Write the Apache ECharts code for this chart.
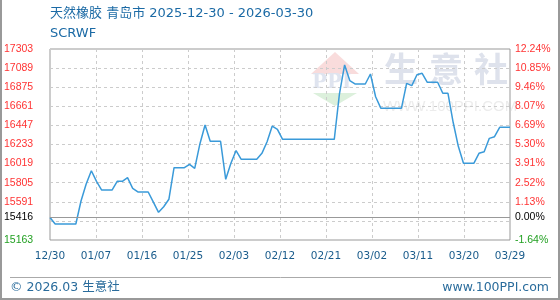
<!DOCTYPE html>
<html>
<head>
<meta charset="utf-8">
<script src="https://cdn.jsdelivr.net/npm/echarts@6/dist/echarts.min.js"></script>
<style>
html,body{margin:0;padding:0;background:#fff;}
#c{width:560px;height:300px;}
</style>
</head>
<body>
<div id="c"></div>
<script>
// ---- data ----
const titleText = '天然橡胶 青岛市 2025-12-30 - 2026-03-30';
const subText = 'SCRWF';
const basePrice = 15416;
const dates = [
  '2025-12-30','2025-12-31','2026-01-04','2026-01-05','2026-01-06','2026-01-07','2026-01-08','2026-01-09',
  '2026-01-11','2026-01-12','2026-01-13','2026-01-14','2026-01-15','2026-01-16','2026-01-18','2026-01-19',
  '2026-01-20','2026-01-21','2026-01-22','2026-01-23','2026-01-25','2026-01-26','2026-01-27','2026-01-28',
  '2026-01-29','2026-01-30','2026-02-01','2026-02-02','2026-02-03','2026-02-04','2026-02-05','2026-02-08',
  '2026-02-09','2026-02-10','2026-02-11','2026-02-12','2026-02-13','2026-02-23','2026-02-24','2026-02-25',
  '2026-02-26','2026-02-27','2026-03-01','2026-03-02','2026-03-03','2026-03-04','2026-03-08','2026-03-09',
  '2026-03-10','2026-03-11','2026-03-12','2026-03-13','2026-03-15','2026-03-16','2026-03-17','2026-03-18',
  '2026-03-19','2026-03-20','2026-03-22','2026-03-23','2026-03-24','2026-03-25','2026-03-26','2026-03-27',
  '2026-03-29'
];
const prices = [
  15416,15342,15342,15600,15790,15939,15820,15723,
  15723,15821,15821,15861,15742,15701,15701,15587,
  15473,15536,15619,15973,15973,16011,15966,16239,
  16451,16269,16269,15843,16022,16165,16067,16067,
  16134,16264,16440,16403,16291,16291,16800,17124,
  16950,16911,16911,17023,16768,16640,16640,16918,
  16892,17015,17031,16930,16930,16807,16807,16482,
  16213,16022,16022,16134,16152,16302,16320,16425,
  16425
];
const xLabels = ['12/30','01/07','01/16','01/25','02/03','02/12','02/21','03/02','03/11','03/20','03/29'];
const priceTicks = [15163,15416,15591,15805,16019,16233,16447,16661,16875,17089,17303];
const pctLabels = ['-1.64%','0.00%','1.13%','2.52%','3.91%','5.30%','6.69%','8.07%','9.46%','10.85%','12.24%'];
const yMin = 15163, yMax = 17303, yStep = 214;
const xStart = '2025-12-30', xEnd = '2026-03-29';

// ---- chart ----
const t0 = new Date(xStart).getTime();
const t1 = new Date(xEnd).getTime();
const xStep = (t1 - t0) / 10;
const seriesData = dates.map((d, i) => [new Date(d).getTime(), prices[i]]);

function tag(v) { return v > basePrice ? 'p' : (v < basePrice ? 'n' : 'z'); }
const labelRich = {
  p: { color: '#ff3333', fontSize: 10.5, fontFamily: 'Liberation Sans' },
  z: { color: '#000000', fontSize: 10.5, fontFamily: 'Liberation Sans' },
  n: { color: '#22a022', fontSize: 10.5, fontFamily: 'Liberation Sans' }
};

const chart = echarts.init(document.getElementById('c'), null, { renderer: 'canvas' });
chart.setOption({
  animation: false,
  backgroundColor: '#fff',
  grid: { left: 50, right: 50, top: 49, bottom: 60, show: true, borderColor: '#999', borderWidth: 1, backgroundColor: 'transparent' },
  graphic: [
    { type: 'polyline', silent: true, z: -10, shape: { points: [[1, 0], [1, 299], [559, 299], [559, 0]] }, style: { stroke: '#999', lineWidth: 2, fill: null } },
    { type: 'line', silent: true, shape: { x1: 10, y1: 277.5, x2: 551, y2: 277.5 }, style: { stroke: '#aaa', lineWidth: 1 } },
    { type: 'text', left: 50, top: 7, style: { text: titleText, fill: '#1b6aa5', font: '13px "DejaVu Sans", "Noto Sans CJK SC"' } },
    { type: 'text', left: 50, top: 27, style: { text: subText, fill: '#1b6aa5', font: '13px "DejaVu Sans"' } },
    { type: 'text', left: 10, top: 281, style: { text: '© 2026.03 生意社', fill: '#2a6c9c', font: '12.5px "DejaVu Sans", "Noto Sans CJK SC"' } },
    { type: 'text', right: 11, top: 281, style: { text: 'www.100PPI.com', fill: '#2a6c9c', font: '12.5px "DejaVu Sans"' } },
    // watermark
    { type: 'polygon', silent: true, z: -5, shape: { points: [[335, 52], [311, 74], [359, 74]] }, style: { fill: '#f9dcdc' } },
    { type: 'text', silent: true, z: -5, x: 312, y: 73, style: { text: 'PPI', fill: '#dfe4ef', font: 'bold 20px "DejaVu Serif"' } },
    { type: 'polygon', silent: true, z: -5, shape: { points: [[313, 93], [357, 93], [335, 106]] }, style: { fill: '#dcf0dc' } },
    { type: 'text', silent: true, z: -5, x: 384, y: 52, style: { text: '生', fill: '#dee2ec', font: 'bold 34px "Noto Sans CJK SC"' } },
    { type: 'text', silent: true, z: -5, x: 429, y: 52, style: { text: '意', fill: '#dee2ec', font: 'bold 34px "Noto Sans CJK SC"' } },
    { type: 'text', silent: true, z: -5, x: 474, y: 52, style: { text: '社', fill: '#dee2ec', font: 'bold 34px "Noto Sans CJK SC"' } },
    { type: 'text', silent: true, z: -5, x: 383, y: 99, style: { text: 'WWW.100PPI.COM', fill: '#ececec', font: '15px "Liberation Sans"' } }
  ],
  xAxis: {
    type: 'value', min: t0, max: t1, interval: xStep,
    axisLine: { show: false }, axisTick: { show: false },
    splitLine: { show: true, lineStyle: { color: '#cccccc', type: [3, 3], width: 1 } },
    axisLabel: {
      margin: 11, fontSize: 10.5, fontFamily: 'DejaVu Sans', color: '#1a5c8c',
      showMinLabel: true, showMaxLabel: true,
      formatter: v => xLabels[Math.round((v - t0) / xStep)] || ''
    }
  },
  yAxis: [
    {
      type: 'value', position: 'left', min: yMin, max: yMax, interval: yStep,
      axisLine: { show: false }, axisTick: { show: false },
      splitLine: { show: true, lineStyle: { color: '#cccccc', type: [3, 3], width: 1 } },
      axisLabel: {
        customValues: priceTicks, align: 'left', margin: 46,
        showMinLabel: true, showMaxLabel: true,
        formatter: v => '{' + tag(v) + '|' + v + '}', rich: labelRich
      }
    },
    {
      type: 'value', position: 'right', min: yMin, max: yMax, interval: yStep,
      axisLine: { show: false }, axisTick: { show: false }, splitLine: { show: false },
      axisLabel: {
        customValues: priceTicks, align: 'left', margin: 5,
        showMinLabel: true, showMaxLabel: true,
        formatter: v => { const i = priceTicks.indexOf(v); return '{' + tag(v) + '|' + (i >= 0 ? pctLabels[i] : '') + '}'; },
        rich: labelRich
      }
    }
  ],
  series: [{
    type: 'line', yAxisIndex: 0, data: seriesData, symbol: 'none',
    lineStyle: { color: '#3a9ad9', width: 1.5 },
    markLine: {
      silent: true, symbol: 'none', label: { show: false }, animation: false,
      lineStyle: { color: '#999', type: 'solid', width: 1 },
      data: [{ yAxis: basePrice }]
    }
  }]
});
</script>
</body>
</html>
